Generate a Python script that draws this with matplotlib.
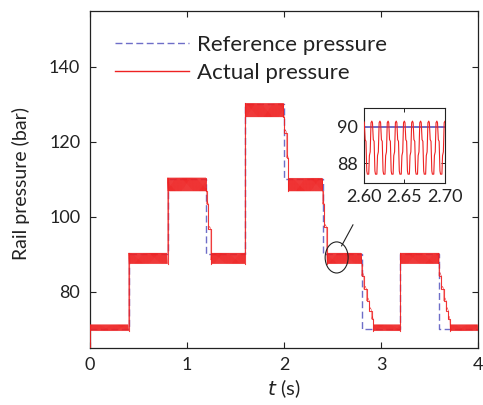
import numpy as np
import matplotlib
matplotlib.use("Agg")
import matplotlib.pyplot as plt
from matplotlib.patches import Ellipse

plt.rcParams['font.family'] = ['Lato', 'DejaVu Sans']

# ---- data ----
seg_t = [0.0, 0.4, 0.8, 1.2, 1.6, 2.0, 2.4, 2.8, 3.2, 3.6, 4.0]
ref_levels = [70, 90, 110, 90, 130, 110, 90, 70, 90, 70]
band_top = [71.2, 90.3, 110.4, 90.3, 130.3, 110.3, 90.3, 71.2, 90.3, 71.2]
band_bot = [69.5, 87.4, 106.8, 87.4, 126.6, 106.8, 87.4, 69.5, 87.4, 69.5]
start_pressure = 65.0

# one oscillation cycle of the actual pressure
period = 0.01
cycle_phase = [0.00, 0.08, 0.18, 0.28, 0.38, 0.45, 0.62, 0.70, 0.80, 0.90]
cycle_shape = [1.00, 0.97, 0.65, 0.62, 0.06, 0.00, 0.00, 0.35, 0.42, 0.97]

# staircase descents after downward reference steps: (times, levels, band start)
desc_start = [1.2, 2.0, 2.4, 2.8, 3.6]
desc_times = [[1.200, 1.203, 1.220],
              [1.993, 2.003, 2.028],
              [2.398, 2.415],
              [2.800, 2.824, 2.852, 2.879, 2.904],
              [3.598, 3.622, 3.648, 3.672, 3.694]]
desc_levels = [[106.8, 103.3, 96.6],
               [126.6, 122.4, 115.7],
               [103.3, 97.1],
               [84.2, 80.6, 77.5, 74.9, 72.6],
               [84.2, 80.6, 77.5, 74.9, 72.6]]
desc_end = [1.247, 2.044, 2.440, 2.920, 3.711]

xticks = [0, 1, 2, 3, 4]
yticks = [80, 100, 120, 140]
inset_xticks = [2.60, 2.65, 2.70]
inset_xlabels = ['2.60', '2.65', '2.70']
inset_yticks = [88, 90]

# ---- build actual-pressure trace ----
ts, ps = [0.0], [start_pressure]
stairs = []  # pieces of the trace that are drawn bolder (jumps and descents)
stairs.append(([0.0, 0.0], [start_pressure, band_bot[0]]))
for i, lvl in enumerate(ref_levels):
    t0, t1 = seg_t[i], seg_t[i + 1]
    band_start = t0
    if i > 0 and ref_levels[i] > ref_levels[i - 1]:
        stairs.append(([t0, t0], [band_bot[i - 1], band_top[i]]))
    for j, ds in enumerate(desc_start):
        if abs(ds - t0) < 1e-9:
            st, sl = desc_times[j], desc_levels[j]
            sx, sy = [st[0]], [band_bot[i - 1]]
            for k in range(len(st)):
                tn = st[k + 1] if k + 1 < len(st) else desc_end[j]
                ts += [st[k], (st[k] + tn) / 2, tn]
                ps += [sl[k], sl[k] + 0.8, sl[k]]
                sx += [st[k], tn]
                sy += [sl[k], sl[k]]
            sx.append(desc_end[j])
            sy.append(band_bot[i])
            stairs.append((sx, sy))
            band_start = desc_end[j]
    c = np.floor(band_start / period + 1e-9) * period
    while c < t1 - 1e-12:
        for ph, v in zip(cycle_phase, cycle_shape):
            tt = c + ph * period
            if band_start - 1e-12 <= tt < t1 - 1e-12:
                ts.append(tt)
                ps.append(band_bot[i] + v * (band_top[i] - band_bot[i]))
        c += period
ts = np.array(ts)
ps = np.array(ps)

ref_t = seg_t
ref_p = ref_levels + [ref_levels[-1]]

red = '#ee2222'
blue = '#6e6ec8'
ink = '#222222'

fig = plt.figure(figsize=(4.83, 4.05), dpi=100)
ax = fig.add_axes([0.1863, 0.1415, 0.8033, 0.8321])
ax.step(ref_t, ref_p, where='post', color=blue, lw=1.0, dashes=(5, 2.5),
        label='Reference pressure', zorder=2)
ax.plot(ts, ps, color=red, lw=0.32, label='Actual pressure', zorder=3)
for sx, sy in stairs:
    ax.plot(sx, sy, color=red, lw=0.8, alpha=0.85, zorder=3)
ax.set_xlim(0, 4)
ax.set_ylim(65, 155)
ax.set_xticks(xticks)
ax.set_yticks(yticks)
ax.tick_params(direction='in', top=True, right=True, length=4, width=0.8,
               labelsize=13, pad=7, colors=ink)
for s in ax.spines.values():
    s.set_linewidth(0.9)
    s.set_color(ink)
ax.set_ylabel('Rail pressure (bar)', fontsize=14, color=ink)
ax.yaxis.set_label_coords(-0.155, 0.487)
ax.set_xlabel(r'$\it{t}$ (s)', fontsize=14.5, color=ink, labelpad=3)
leg = ax.legend(loc='upper left', bbox_to_anchor=(0.065, 0.928), frameon=False,
                fontsize=16, handlelength=3.3, handletextpad=0.4,
                borderpad=0, borderaxespad=0, labelspacing=0.35)
for line in leg.get_lines():
    line.set_linewidth(1.0)
for txt in leg.get_texts():
    txt.set_color(ink)

# annotation ellipse and leader line
ax.add_patch(Ellipse((2.543, 89.1), 0.237, 8.3, fill=False, ec=ink, lw=0.8, zorder=4))
ax.plot([2.594, 2.711], [92.2, 97.8], color=ink, lw=0.8, zorder=4)

# inset
axi = fig.add_axes([0.753, 0.5474, 0.1683, 0.1852])
axi.plot([2.5, 2.8], [90, 90], color=blue, lw=1.4, zorder=2)
axi.plot(ts, ps, color=red, lw=0.8, zorder=3)
axi.set_xlim(2.60, 2.70)
axi.set_ylim(86.9, 91.0)
axi.set_xticks(inset_xticks)
axi.set_xticklabels(inset_xlabels)
axi.set_yticks(inset_yticks)
axi.tick_params(direction='in', top=True, right=True, length=3, width=0.7,
                labelsize=13, pad=4, colors=ink)
for s in axi.spines.values():
    s.set_linewidth(0.8)
    s.set_color(ink)

fig.savefig('out.png', dpi=100)
